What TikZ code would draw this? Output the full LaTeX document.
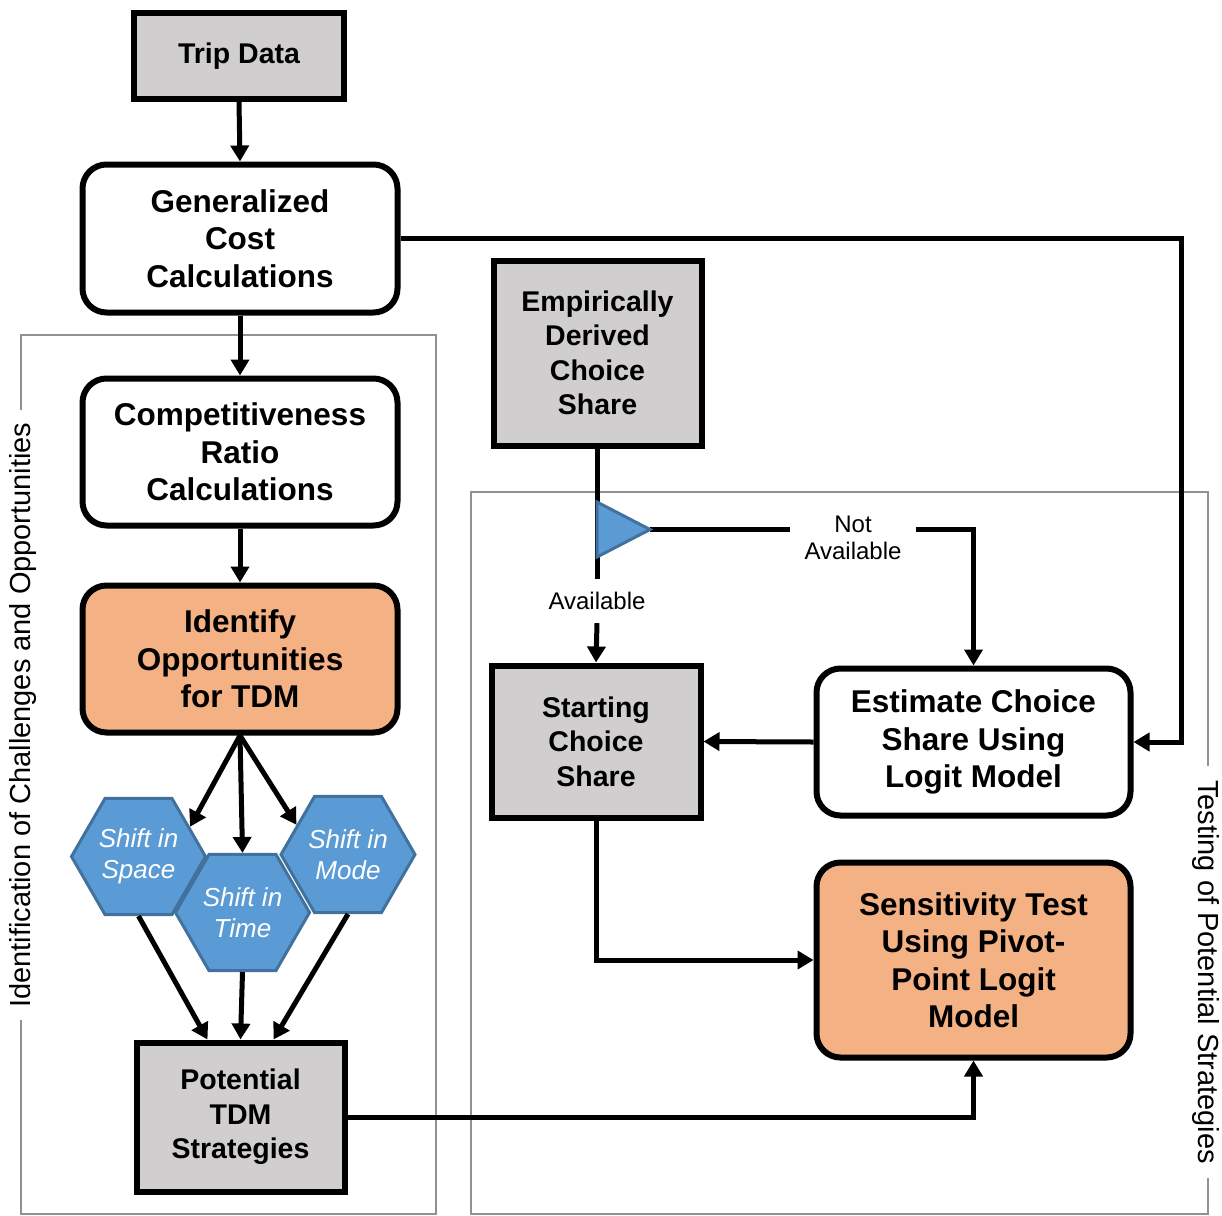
\documentclass[tikz,border=0pt]{standalone}
\usepackage{fontspec}
\setmainfont{Liberation Sans}
\usetikzlibrary{arrows.meta,shapes.geometric}

\definecolor{boxgray}{RGB}{208,206,206}
\definecolor{tdmorange}{RGB}{244,177,131}
\definecolor{hexblue}{RGB}{91,155,213}
\definecolor{hexedge}{RGB}{65,113,156}
\definecolor{grpgray}{RGB}{145,145,145}

\tikzset{
  boxbase/.style={draw=black, line width=6pt, align=center, inner sep=0pt, text=black},
  graybox/.style={boxbase, fill=boxgray, font=\fontsize{28.5}{34.5}\selectfont\bfseries},
  roundbox/.style={boxbase, rounded corners=24pt, font=\fontsize{31.5}{37.5}\selectfont\bfseries},
  whitebox/.style={roundbox, fill=white},
  orangebox/.style={roundbox, fill=tdmorange},
  hexnode/.style={regular polygon, regular polygon sides=6, minimum size=134pt,
    inner sep=0pt, draw=hexedge, fill=hexblue, line width=3pt, text=white,
    font=\fontsize{26}{31}\selectfont\itshape, align=center},
  conn/.style={line width=5pt, draw=black},
  arr/.style={conn, -{Triangle[length=16pt,width=18pt]}},
  grp/.style={draw=grpgray, line width=2pt},
  grplabel/.style={fill=white, inner xsep=12pt, inner ysep=0pt,
    font=\fontsize{29}{34}\selectfont},
  flowlabel/.style={font=\fontsize{24}{27}\selectfont, align=center, inner sep=0pt},
  splitter/.style={draw=hexedge, fill=hexblue, line width=3pt, line join=miter}
}

\begin{document}
\begin{tikzpicture}[x=1pt,y=-1pt]
\useasboundingbox (0,0) rectangle (1222,1215);

% group frames with their titles
\draw[grp] (21,335) rectangle (436,1214);
\draw[grp] (471,492) rectangle (1208,1214);
\node[grplabel, rotate=90] (grpleft) at (23,715) {Identification of Challenges and Opportunities};
\node[grplabel, rotate=-90, inner xsep=14pt] (grpright) at (1206,972) {Testing of Potential Strategies};

% left column
\node[graybox, minimum width=210pt, minimum height=85pt] (trip) at (239,56) {\raisebox{-3pt}{Trip Data}};
\node[whitebox, minimum width=315pt, minimum height=148pt] (gen) at (240,238.5) {Generalized\\Cost\\Calculations};
\node[whitebox, minimum width=315pt, minimum height=147pt] (comp) at (240,452) {Competitiveness\\Ratio\\Calculations};
\node[orangebox, minimum width=315pt, minimum height=147pt] (ident) at (240,659) {Identify\\Opportunities\\for TDM};

\node[hexnode] (space) at (138.5,856.5) {Shift in\\Space};
\node[hexnode] (time) at (242.5,912.5) {Shift in\\Time};
\node[hexnode] (mode) at (348,854.5) {Shift in\\Mode};

\node[graybox, minimum width=208pt, minimum height=149pt] (pot) at (240.5,1117) {Potential\\TDM\\Strategies};

% right column
\node[graybox, minimum width=208pt, minimum height=185pt] (emp) at (597.5,353) {Empirically\\Derived\\Choice\\Share};
\node[graybox, minimum width=209pt, minimum height=152pt] (start) at (596,741.5) {Starting\\Choice\\Share};
\node[whitebox, minimum width=314pt, minimum height=147pt] (est) at (973.5,742) {Estimate Choice\\Share Using\\Logit Model};
\node[orangebox, minimum width=314pt, minimum height=195pt] (sens) at (973.5,960) {Sensitivity Test\\Using Pivot-\\Point Logit\\Model};

% decision labels
\node[flowlabel, minimum height=44pt] (avail) at (597,601) {Available};
\node[flowlabel, minimum width=125pt] (notavail) at (853,538) {Not\\Available};
\coordinate (tritip) at (650,529.5);
\coordinate (rail) at (1181,238.5);

% connectors
\draw[arr] (trip.south) -- (gen.north);
\draw[arr] (gen.south) -- (comp.north);
\draw[arr] (comp.south) -- (ident.north);
\draw[arr] (ident.south) -- (space.30);
\draw[arr] (ident.south) -- (time.north);
\draw[arr] (ident.south) -- (mode.150);
\draw[arr] (space.south) -- ([xshift=-33pt]pot.north);
\draw[arr] (time.south) -- (pot.north);
\draw[arr] (mode.south) -- ([xshift=33pt]pot.north);
\draw[arr] (gen.east) -- (rail) -- (rail |- est.east) -- (est.east);
\draw[arr] (pot.east) -- (pot.east -| sens.south) -- (sens.south);
\draw[arr] (est.west) -- (start.east);
\draw[arr] (start.south) -- (start.south |- sens.west) -- (sens.west);
\draw[conn] (emp.south) -- (emp.south |- avail.north);
\draw[arr] (avail.south) -- (start.north);
\draw[conn] (tritip) -- (tritip -| notavail.west);
\draw[arr] (tritip -| notavail.east) -- (tritip -| est.north) -- (est.north);

% availability switch
\draw[splitter] (597,502) -- (tritip) -- (597,557) -- cycle;
\end{tikzpicture}
\end{document}
